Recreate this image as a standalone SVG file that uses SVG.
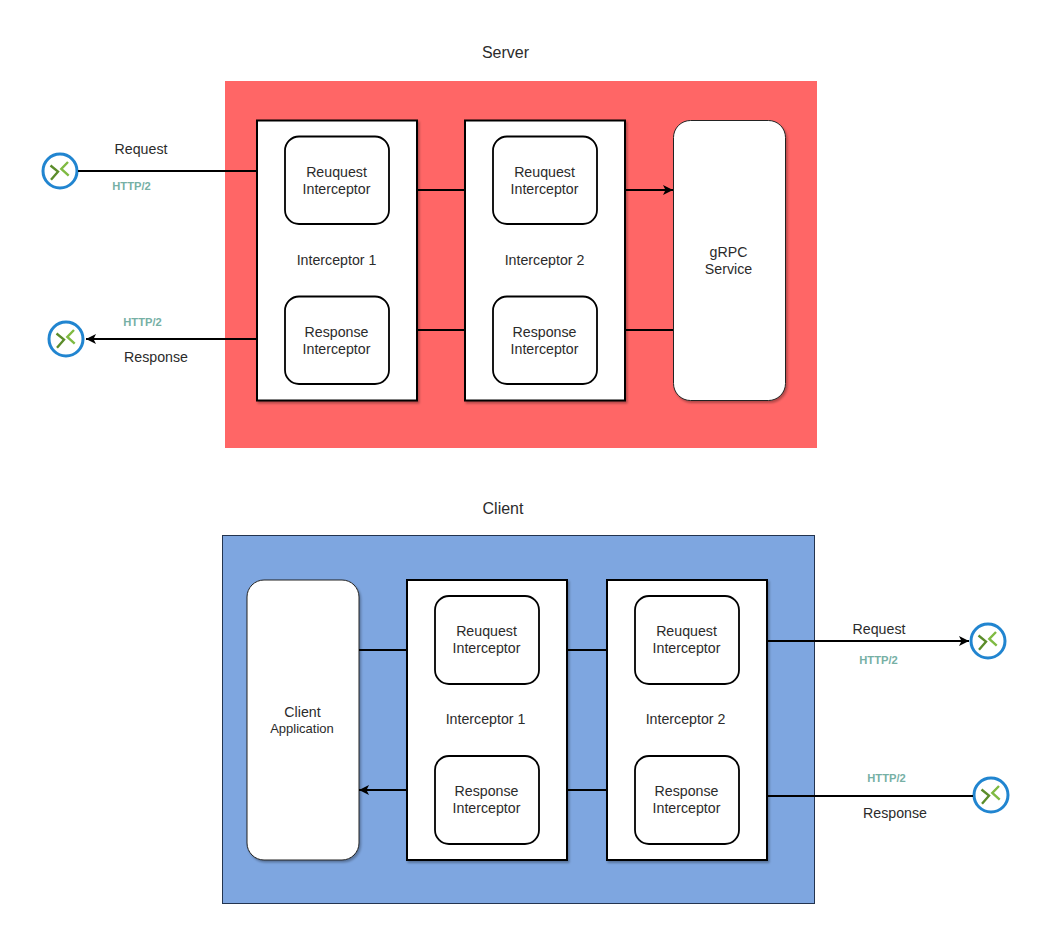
<svg xmlns="http://www.w3.org/2000/svg" width="1051" height="944" viewBox="0 0 1051 944">
  <style>
    text { font-family: "Liberation Sans", Arial, sans-serif; font-size: 14.2px; fill: #2b2b2b; text-anchor: middle; }
    .title { font-size: 16px; }
    .small { font-size: 13px; }
    .proto { font-size: 11.2px; font-weight: bold; fill: #76b0a5; }
    .box { fill: #fff; stroke: #000; stroke-width: 2; filter: url(#shadow); }
    .inner { fill: #fff; stroke: #000; stroke-width: 1.8; }
    .app { fill: #fff; stroke: #222; stroke-width: 1; filter: url(#shadow); }
    .wire { fill: none; stroke: #000; stroke-width: 2; }
    .ring { fill: #fff; stroke: #2185d0; stroke-width: 3; }
    .dark { fill: none; stroke: #5b8c2a; stroke-width: 2.4; }
    .light { fill: none; stroke: #7fba42; stroke-width: 2.4; }
  </style>
  <defs>
    <filter id="shadow" x="-10%" y="-10%" width="125%" height="125%">
      <feDropShadow dx="1.5" dy="2" stdDeviation="1" flood-color="#000" flood-opacity="0.3"/>
    </filter>
    <marker id="arrow" markerUnits="userSpaceOnUse" markerWidth="12" markerHeight="12" refX="10" refY="5" orient="auto">
      <path d="M0 0L10 5L0 10L2.500 5Z" fill="#000"/>
    </marker>
    <g id="endpoint">
      <circle class="ring" r="17"/>
      <path class="dark" d="M-9.500 -5.500L-2 0.700L-9 8.700"/>
      <path class="light" d="M8 -9L1.300 -2L8.700 4.700"/>
    </g>
  </defs>

  <rect id="bg" width="1051" height="944" fill="#fff"/>

  <g id="server-panel">
    <rect x="225" y="81" width="592" height="367" fill="#ff6666"/>
    <text class="title" x="505.500" y="58">Server</text>
  </g>
  <g id="client-panel">
    <rect x="222.500" y="535.500" width="592" height="368" fill="#7ea6e0" stroke="#23344f" stroke-width="1"/>
    <text class="title" x="503" y="514">Client</text>
  </g>

  <g id="server-interceptor-1">
    <rect class="box" x="257" y="120.500" width="160" height="280"/>
    <text x="336.500" y="265">Interceptor 1</text>
    <rect class="inner" x="285" y="136.500" width="104" height="87.500" rx="14"/>
    <text x="336.500" y="177">Reuquest</text><text x="336.500" y="194">Interceptor</text>
    <rect class="inner" x="285" y="296.500" width="104" height="87.500" rx="14"/>
    <text x="336.500" y="337">Response</text><text x="336.500" y="354">Interceptor</text>
  </g>
  <g id="server-interceptor-2">
    <rect class="box" x="465" y="120.500" width="160" height="280"/>
    <text x="544.500" y="265">Interceptor 2</text>
    <rect class="inner" x="493" y="136.500" width="104" height="87.500" rx="14"/>
    <text x="544.500" y="177">Reuquest</text><text x="544.500" y="194">Interceptor</text>
    <rect class="inner" x="493" y="296.500" width="104" height="87.500" rx="14"/>
    <text x="544.500" y="337">Response</text><text x="544.500" y="354">Interceptor</text>
  </g>
  <g id="grpc-service">
    <rect class="app" x="673.500" y="120.500" width="112" height="280" rx="17"/>
    <text x="728.500" y="257">gRPC</text><text x="728.500" y="274">Service</text>
  </g>

  <g id="client-application">
    <rect class="app" x="247" y="580" width="112" height="280" rx="17"/>
    <text x="302.500" y="717">Client</text><text class="small" x="302" y="733">Application</text>
  </g>
  <g id="client-interceptor-1">
    <rect class="box" x="407" y="580" width="160" height="280"/>
    <text x="485.500" y="724">Interceptor 1</text>
    <rect class="inner" x="435" y="596" width="104" height="88" rx="14"/>
    <text x="486.500" y="636">Reuquest</text><text x="486.500" y="653">Interceptor</text>
    <rect class="inner" x="435" y="756" width="104" height="88" rx="14"/>
    <text x="486.500" y="796">Response</text><text x="486.500" y="813">Interceptor</text>
  </g>
  <g id="client-interceptor-2">
    <rect class="box" x="607" y="580" width="160" height="280"/>
    <text x="685.500" y="724">Interceptor 2</text>
    <rect class="inner" x="635" y="596" width="104" height="88" rx="14"/>
    <text x="686.500" y="636">Reuquest</text><text x="686.500" y="653">Interceptor</text>
    <rect class="inner" x="635" y="756" width="104" height="88" rx="14"/>
    <text x="686.500" y="796">Response</text><text x="686.500" y="813">Interceptor</text>
  </g>

  <g id="endpoint-server-in"><use href="#endpoint" x="60" y="171"/></g>
  <g id="endpoint-server-out"><use href="#endpoint" x="66" y="339"/></g>
  <g id="endpoint-client-out"><use href="#endpoint" x="988" y="641"/></g>
  <g id="endpoint-client-in"><use href="#endpoint" x="991" y="795"/></g>

  <g id="connectors">
    <path class="wire" d="M78 171H257"/>
    <path class="wire" d="M417 190H465"/>
    <path class="wire" d="M625 190H673" marker-end="url(#arrow)"/>
    <path class="wire" d="M673 330H625"/>
    <path class="wire" d="M465 330H417"/>
    <path class="wire" d="M257 339H86" marker-end="url(#arrow)"/>
    <path class="wire" d="M767 641H969" marker-end="url(#arrow)"/>
    <path class="wire" d="M607 650H567"/>
    <path class="wire" d="M407 650H359"/>
    <path class="wire" d="M973 796H767"/>
    <path class="wire" d="M607 790H567"/>
    <path class="wire" d="M407 790H359" marker-end="url(#arrow)"/>
  </g>

  <g id="connector-labels">
    <text x="141" y="154">Request</text>
    <text class="proto" x="131.500" y="190">HTTP/2</text>
    <text class="proto" x="142.500" y="326">HTTP/2</text>
    <text x="156" y="362">Response</text>
    <text x="879" y="634">Request</text>
    <text class="proto" x="878.500" y="664">HTTP/2</text>
    <text class="proto" x="886.500" y="782">HTTP/2</text>
    <text x="895" y="818">Response</text>
  </g>
</svg>
